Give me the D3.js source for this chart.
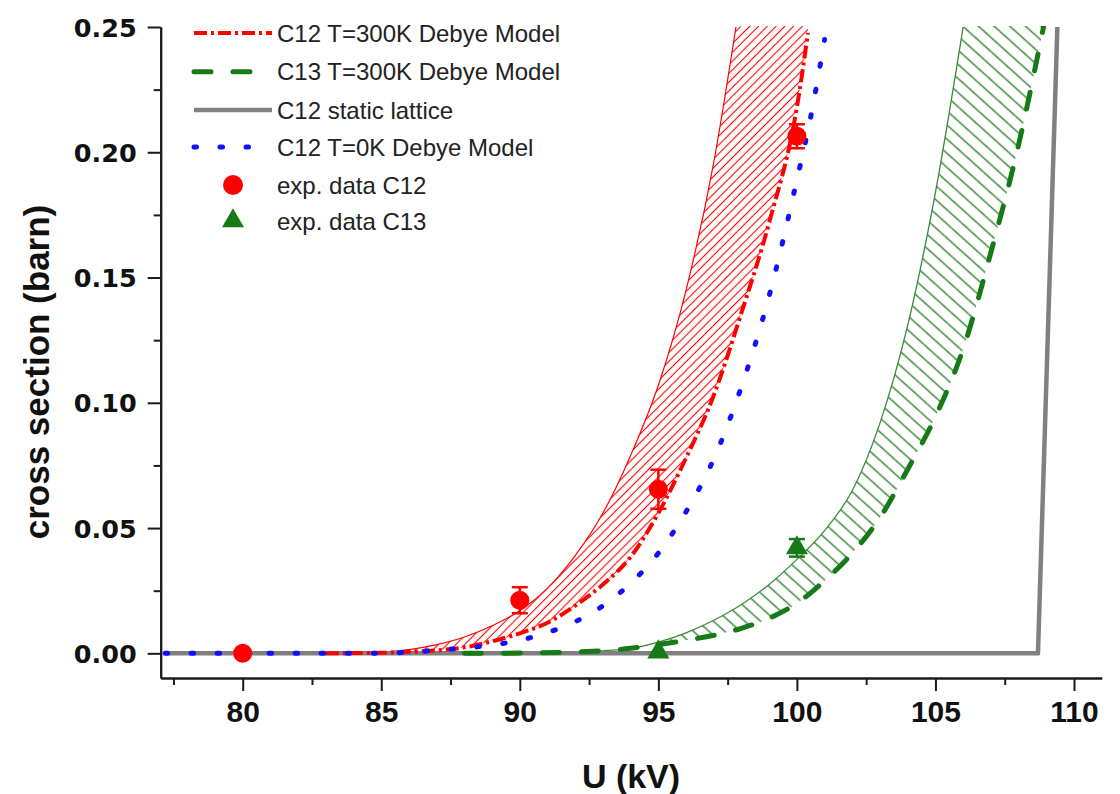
<!DOCTYPE html>
<html><head><meta charset="utf-8">
<script src="https://cdn.jsdelivr.net/npm/d3@7"></script>
<style>html,body{margin:0;padding:0;background:#fff;} svg{display:block;}</style>
</head><body><svg id="chart" width="1120" height="794"></svg>
<script>
// ---- data (U in kV, cross section in barn) ----
const uC12_0K   = [77.2, 84, 86, 87, 88, 89, 90, 91, 92, 93, 94, 95, 96, 97, 98, 99, 100, 100.5, 101];
const sC12_0K   = [0, 0, 0.0004, 0.0013, 0.0021, 0.0033, 0.0052, 0.0083, 0.0126, 0.019, 0.028, 0.040, 0.0565, 0.0776, 0.1065, 0.1427, 0.189, 0.2142, 0.245];

const uC12_300K = [83, 84, 85, 86, 87, 88, 89, 90, 91, 92, 93, 94, 95, 96, 97, 98, 99, 100, 100.4];
const sC12_300K = [0, 0.0001, 0.0002, 0.0006, 0.0012, 0.0024, 0.0048, 0.008, 0.0122, 0.019, 0.0275, 0.0385, 0.056, 0.078, 0.103, 0.136, 0.172, 0.218, 0.2477];

const uC12_band = [77.2, 83, 85, 86, 87, 88, 89, 90, 91, 92, 93, 94, 95, 96, 97, 97.8];
const sC12_band = [0, 0, 0.0005, 0.0015, 0.0035, 0.0065, 0.011, 0.017, 0.026, 0.039, 0.056, 0.079, 0.107, 0.145, 0.196, 0.25];

const uC13_300K = [88, 90, 92, 94, 95, 96, 97, 98, 99, 100, 101, 102, 103, 104, 105, 106, 107, 108, 108.9];
const sC13_300K = [0, 0.0001, 0.0005, 0.002, 0.0035, 0.0052, 0.0072, 0.010, 0.014, 0.020, 0.029, 0.040, 0.0542, 0.0735, 0.0945, 0.1215, 0.160, 0.203, 0.25];

const uC13_band = [77.2, 90, 93, 94, 95, 96, 97, 98, 99, 100, 101, 102, 103, 104, 105, 106];
const sC13_band = [0, 0, 0.001, 0.002, 0.0045, 0.0082, 0.0132, 0.0195, 0.0275, 0.0375, 0.049, 0.065, 0.092, 0.131, 0.184, 0.25];

const uStatic = [77.2, 108.7, 109.05, 109.4];
const sStatic = [0, 0, 0.125, 0.25];

const uExpC12 = [80, 90, 95, 100];
const sExpC12 = [0, 0.0212, 0.0655, 0.2064];
const eExpC12 = [0, 0.0052, 0.0078, 0.0048];

const uExpC13 = [95, 100];
const sExpC13 = [0.0005, 0.0421];
const eExpC13 = [0, 0.0035];

const xMajor = [80, 85, 90, 95, 100, 105, 110];
const xMinor = [77.5, 82.5, 87.5, 92.5, 97.5, 102.5, 107.5];
const yMajor = [0, 0.05, 0.10, 0.15, 0.20, 0.25];
const yMinor = [0.025, 0.075, 0.125, 0.175, 0.225];

const legendLabels = ["C12 T=300K Debye Model", "C13 T=300K Debye Model", "C12 static lattice",
                      "C12 T=0K Debye Model", "exp. data C12", "exp. data C13"];

// ---- setup ----
const svg = d3.select("#chart");
const L = 160.7, R = 1101.7, T = 27, B = 678;
const x = d3.scaleLinear().domain([77.04, 111.0]).range([L, R]);
const y = d3.scaleLinear().domain([-0.00985, 0.25]).range([B, T]);

const RED = "#ff0000", GREEN = "#167a16", GREEN_H = "#3a8a3a", BLUE = "#1010ff", GRAY = "#808080";

const defs = svg.append("defs");
defs.append("clipPath").attr("id", "plotClip").append("rect")
  .attr("x", L).attr("y", T - 1).attr("width", R - L).attr("height", B - T + 1);

function hatch(id, size, angle, color, sw) {
  const p = defs.append("pattern").attr("id", id).attr("patternUnits", "userSpaceOnUse")
    .attr("width", size).attr("height", size).attr("patternTransform", `rotate(${angle})`);
  p.append("line").attr("x1", size / 2).attr("x2", size / 2).attr("y1", 0).attr("y2", size)
    .attr("stroke", color).attr("stroke-width", sw);
}
hatch("hRed", 6.2, 45, RED, 1.1);
hatch("hGreen", 10.5, -48, GREEN_H, 1.5);

const pts = (us, ss) => us.map((u, i) => [x(u), y(ss[i])]);
const lineM = d3.line().curve(d3.curveMonotoneX);
const lineL = d3.line();

const plot = svg.append("g").attr("clip-path", "url(#plotClip)");

// band = (below/right of upper edge) ∩ (above/left of lower curve)
function band(id, upperP, lowerP, fill) {
  const lowerPath = lineM(lowerP) +
    `L${lowerP[lowerP.length - 1][0]},${T - 30}L${L - 30},${T - 30}L${L - 30},${lowerP[0][1]}Z`;
  defs.append("clipPath").attr("id", id).append("path").attr("d", lowerPath);
  const upperPath = lineM(upperP) +
    `L${R + 30},${T - 30}L${R + 30},${B + 30}L${upperP[0][0]},${B + 30}Z`;
  plot.append("path").attr("d", upperPath).attr("fill", fill).attr("clip-path", `url(#${id})`);
}
const pC12band = pts(uC12_band, sC12_band), pC12_300 = pts(uC12_300K, sC12_300K);
const pC13band = pts(uC13_band, sC13_band), pC13_300 = pts(uC13_300K, sC13_300K);
band("clipC12", pC12band, pC12_300, "url(#hRed)");
band("clipC13", pC13band, pC13_300, "url(#hGreen)");

// band upper edges (thin)
plot.append("path").attr("d", lineM(pC12band)).attr("fill", "none").attr("stroke", RED).attr("stroke-width", 1.2);
plot.append("path").attr("d", lineM(pC13band)).attr("fill", "none").attr("stroke", GREEN_H).attr("stroke-width", 1.3);

// static lattice
plot.append("path").attr("d", lineL(pts(uStatic, sStatic))).attr("fill", "none")
  .attr("stroke", GRAY).attr("stroke-width", 4.5).attr("stroke-linejoin", "round");

// styles
const styles = {
  red:   {stroke: RED, w: 4, dash: "13,4,3,4", cap: "butt"},
  green: {stroke: GREEN, w: 5, dash: "17,22", cap: "round"},
  gray:  {stroke: GRAY, w: 4.5, dash: null, cap: "butt"},
  blue:  {stroke: BLUE, w: 5, dash: "2.5,23.5", cap: "round"}
};
function styled(sel, st) {
  sel.attr("fill", "none").attr("stroke", st.stroke).attr("stroke-width", st.w)
    .attr("stroke-linecap", st.cap);
  if (st.dash) sel.attr("stroke-dasharray", st.dash);
  return sel;
}
styled(plot.append("path").attr("d", lineM(pC13_300)), styles.green);
styled(plot.append("path").attr("d", lineM(pC12_300)), styles.red);
styled(plot.append("path").attr("d", lineM(pts(uC12_0K, sC12_0K))), styles.blue);

// error bars & markers
function errBars(us, ss, es, color) {
  const g = plot.append("g").attr("stroke", color).attr("stroke-width", 2.5);
  us.forEach((u, i) => {
    if (!es[i]) return;
    const cx = x(u), y1 = y(ss[i] + es[i]), y2 = y(ss[i] - es[i]);
    g.append("line").attr("x1", cx).attr("x2", cx).attr("y1", y1).attr("y2", y2);
    g.append("line").attr("x1", cx - 8).attr("x2", cx + 8).attr("y1", y1).attr("y2", y1);
    g.append("line").attr("x1", cx - 8).attr("x2", cx + 8).attr("y1", y2).attr("y2", y2);
  });
}
errBars(uExpC12, sExpC12, eExpC12, RED);
errBars(uExpC13, sExpC13, eExpC13, GREEN);
plot.append("g").selectAll("circle").data(uExpC12).join("circle")
  .attr("cx", d => x(d)).attr("cy", (d, i) => y(sExpC12[i])).attr("r", 9.5).attr("fill", RED);
const tri = d3.symbol().type(d3.symbolTriangle).size(210);
plot.append("g").selectAll("path").data(uExpC13).join("path")
  .attr("d", tri).attr("fill", GREEN)
  .attr("transform", (d, i) => `translate(${x(d)},${y(sExpC13[i])})`);

// ---- axes ----
const axCol = "#1a1a1a";
const xAxisMajor = d3.axisBottom(x).tickValues(xMajor).tickSize(13).tickSizeOuter(0).tickFormat(d3.format("d"));
const xAxisMinor = d3.axisBottom(x).tickValues(xMinor).tickSize(7).tickSizeOuter(0).tickFormat("");
const gxm = svg.append("g").attr("transform", `translate(0,${B})`).call(xAxisMinor);
const gx = svg.append("g").attr("transform", `translate(0,${B})`).call(xAxisMajor);
const yAxisMajor = d3.axisLeft(y).tickValues(yMajor).tickSize(13).tickSizeOuter(0).tickFormat(d3.format(".2f"));
const yAxisMinor = d3.axisLeft(y).tickValues(yMinor).tickSize(7).tickSizeOuter(0).tickFormat("");
const gym = svg.append("g").attr("transform", `translate(${L},0)`).call(yAxisMinor);
const gy = svg.append("g").attr("transform", `translate(${L},0)`).call(yAxisMajor);
[gx, gxm, gy, gym].forEach(g => {
  g.select(".domain").attr("stroke", axCol).attr("stroke-width", 2);
  g.selectAll(".tick line").attr("stroke", axCol).attr("stroke-width", 2);
});
gx.selectAll(".tick text").attr("fill", "#111").attr("font-family", "'Liberation Sans', Arial, sans-serif")
  .attr("font-weight", "bold").attr("font-size", 30).attr("dy", null).attr("y", 44);
gy.selectAll(".tick text").attr("fill", "#111").attr("font-family", "'DejaVu Sans', sans-serif")
  .attr("font-weight", "bold").attr("font-size", 25.5).attr("x", -24).attr("dy", "0.36em");

// axis titles
svg.append("text").attr("x", 631).attr("y", 788).attr("text-anchor", "middle")
  .attr("font-family", "'Liberation Sans', Arial, sans-serif").attr("font-weight", "bold")
  .attr("font-size", 34).attr("fill", "#111").text("U (kV)");
svg.append("text").attr("transform", "translate(49,372) rotate(-90)").attr("text-anchor", "middle")
  .attr("font-family", "'Liberation Sans', Arial, sans-serif").attr("font-weight", "bold")
  .attr("font-size", 35).attr("fill", "#111").text("cross section (barn)");

// ---- legend ----
const legY = [33, 71.7, 110, 147, 185, 221];
const lg = svg.append("g");
const lineKeys = ["red", "green", "gray", "blue"];
lineKeys.forEach((k, i) => {
  styled(lg.append("line").attr("x1", 194).attr("x2", 272).attr("y1", legY[i]).attr("y2", legY[i]), styles[k]);
});
lg.append("circle").attr("cx", 233).attr("cy", legY[4]).attr("r", 10).attr("fill", RED);
lg.append("path").attr("d", tri).attr("fill", GREEN).attr("transform", `translate(233,${legY[5]})`);
legendLabels.forEach((t, i) => {
  lg.append("text").attr("x", 277).attr("y", legY[i]).attr("dy", "0.36em")
    .attr("font-family", "'Liberation Sans', Arial, sans-serif").attr("font-size", 24)
    .attr("fill", "#222").text(t);
});
</script></body></html>
